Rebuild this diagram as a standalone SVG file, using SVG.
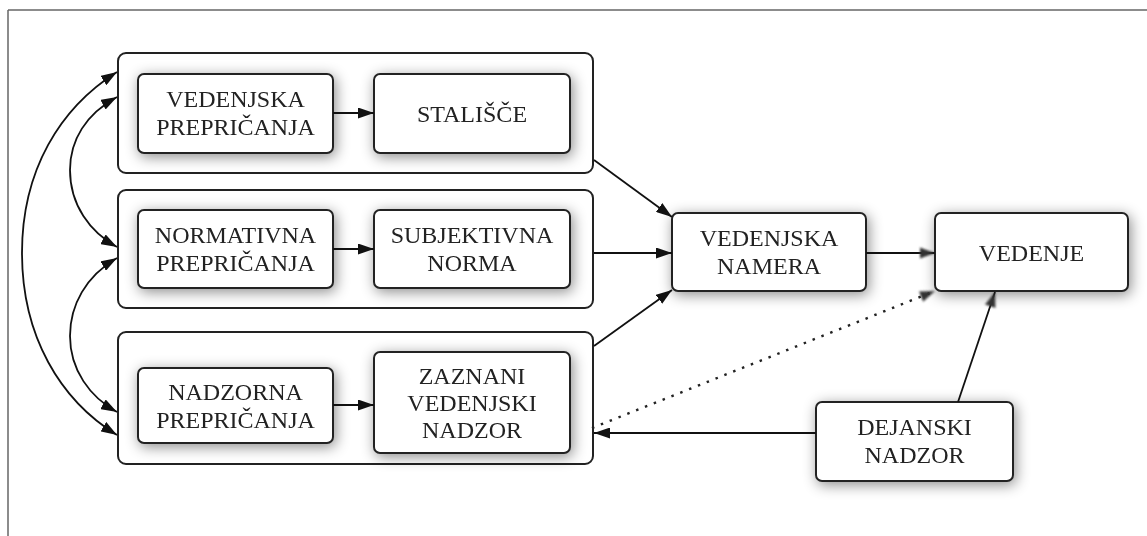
<svg xmlns="http://www.w3.org/2000/svg" width="1147" height="536" viewBox="0 0 1147 536">
<defs>
<style>
.grp{fill:#fff;stroke:#222;stroke-width:2}
.box{fill:#fff;stroke:#222;stroke-width:2}
.lbl{font-family:"Liberation Serif","Times New Roman",serif;font-size:24px;fill:#222;text-anchor:middle}
.con{fill:none;stroke:#111;stroke-width:1.8}
.dot{fill:none;stroke:#222;stroke-width:2.4;stroke-dasharray:2.5 7}
</style>
<filter id="sh" x="-25%" y="-35%" width="150%" height="170%">
<feGaussianBlur in="SourceAlpha" stdDeviation="7"/>
<feOffset dx="2" dy="3" result="b"/>
<feFlood flood-color="#000" flood-opacity="0.45"/>
<feComposite in2="b" operator="in"/>
<feMerge><feMergeNode/><feMergeNode in="SourceGraphic"/></feMerge>
</filter>
<filter id="bl" x="-50%" y="-50%" width="200%" height="200%">
<feGaussianBlur stdDeviation="1.2"/>
</filter>
<marker id="ah" viewBox="0 0 16 11" refX="16" refY="5.5" markerWidth="16" markerHeight="11" markerUnits="userSpaceOnUse" orient="auto">
<path d="M0,0 L16,5.5 L0,11 Z" fill="#111"/>
</marker>
<marker id="ahs" viewBox="0 0 16 11" refX="0" refY="5.5" markerWidth="16" markerHeight="11" markerUnits="userSpaceOnUse" orient="auto">
<path d="M16,0 L0,5.5 L16,11 Z" fill="#111"/>
</marker>
<marker id="ahb" viewBox="-3 -3 20 17" refX="15" refY="5.5" markerWidth="20" markerHeight="17" markerUnits="userSpaceOnUse" orient="auto">
<path d="M0,0 L15,5.5 L0,11 Z" fill="#333" filter="url(#bl)"/>
</marker>
</defs>

<g id="frame">
<line x1="8" y1="10" x2="1147" y2="10" stroke="#666" stroke-width="1.5"/>
<line x1="8" y1="10" x2="8" y2="536" stroke="#666" stroke-width="1.5"/>
</g>

<g id="group1">
<rect class="grp" x="118" y="53" width="475" height="120" rx="8"/>
</g>
<g id="group2">
<rect class="grp" x="118" y="190" width="475" height="118" rx="8"/>
</g>
<g id="group3">
<rect class="grp" x="118" y="332" width="475" height="132" rx="8"/>
</g>

<g id="vedenjska-prepricanja" filter="url(#sh)">
<rect class="box" x="138" y="74" width="195" height="79" rx="6"/>
<text class="lbl" x="235.5" y="107">VEDENJSKA</text>
<text class="lbl" x="235.5" y="135">PREPRIČANJA</text>
</g>
<g id="stalisce" filter="url(#sh)">
<rect class="box" x="374" y="74" width="196" height="79" rx="6"/>
<text class="lbl" x="472" y="122">STALIŠČE</text>
</g>

<g id="normativna-prepricanja" filter="url(#sh)">
<rect class="box" x="138" y="210" width="195" height="78" rx="6"/>
<text class="lbl" x="235.5" y="243">NORMATIVNA</text>
<text class="lbl" x="235.5" y="271">PREPRIČANJA</text>
</g>
<g id="subjektivna-norma" filter="url(#sh)">
<rect class="box" x="374" y="210" width="196" height="78" rx="6"/>
<text class="lbl" x="472" y="243">SUBJEKTIVNA</text>
<text class="lbl" x="472" y="271">NORMA</text>
</g>

<g id="nadzorna-prepricanja" filter="url(#sh)">
<rect class="box" x="138" y="368" width="195" height="75" rx="6"/>
<text class="lbl" x="235.5" y="400">NADZORNA</text>
<text class="lbl" x="235.5" y="428">PREPRIČANJA</text>
</g>
<g id="zaznani-vedenjski-nadzor" filter="url(#sh)">
<rect class="box" x="374" y="352" width="196" height="101" rx="6"/>
<text class="lbl" x="472" y="384">ZAZNANI</text>
<text class="lbl" x="472" y="411">VEDENJSKI</text>
<text class="lbl" x="472" y="438">NADZOR</text>
</g>

<g id="vedenjska-namera" filter="url(#sh)">
<rect class="box" x="672" y="213" width="194" height="78" rx="6"/>
<text class="lbl" x="769" y="246">VEDENJSKA</text>
<text class="lbl" x="769" y="274">NAMERA</text>
</g>
<g id="vedenje" filter="url(#sh)">
<rect class="box" x="935" y="213" width="193" height="78" rx="6"/>
<text class="lbl" x="1031.5" y="261">VEDENJE</text>
</g>
<g id="dejanski-nadzor" filter="url(#sh)">
<rect class="box" x="816" y="402" width="197" height="79" rx="6"/>
<text class="lbl" x="914.5" y="435">DEJANSKI</text>
<text class="lbl" x="914.5" y="463">NADZOR</text>
</g>

<g id="connectors">
<line class="con" x1="333" y1="113" x2="374" y2="113" marker-end="url(#ah)"/>
<line class="con" x1="333" y1="249" x2="374" y2="249" marker-end="url(#ah)"/>
<line class="con" x1="333" y1="405" x2="374" y2="405" marker-end="url(#ah)"/>
<line class="con" x1="594" y1="160" x2="672" y2="217" marker-end="url(#ah)"/>
<line class="con" x1="594" y1="253" x2="672" y2="253" marker-end="url(#ah)"/>
<line class="con" x1="594" y1="346" x2="672" y2="290" marker-end="url(#ah)"/>
<line class="con" x1="866" y1="253" x2="935" y2="253" marker-end="url(#ahb)"/>
<line class="dot" x1="592" y1="428" x2="935" y2="291" marker-end="url(#ahb)"/>
<line class="con" x1="958" y1="402" x2="995" y2="292" marker-end="url(#ahb)"/>
<line class="con" x1="816" y1="433" x2="594" y2="433" marker-end="url(#ah)"/>
<path class="con" d="M117,72 C60,108 22,170 22,253 C22,336 60,400 117,435" marker-start="url(#ahs)" marker-end="url(#ah)"/>
<path class="con" d="M117,97 C86,114 70,140 70,170 C70,205 90,232 117,247" marker-start="url(#ahs)" marker-end="url(#ah)"/>
<path class="con" d="M117,258 C86,276 70,305 70,336 C70,370 90,397 117,412" marker-start="url(#ahs)" marker-end="url(#ah)"/>
</g>
</svg>
